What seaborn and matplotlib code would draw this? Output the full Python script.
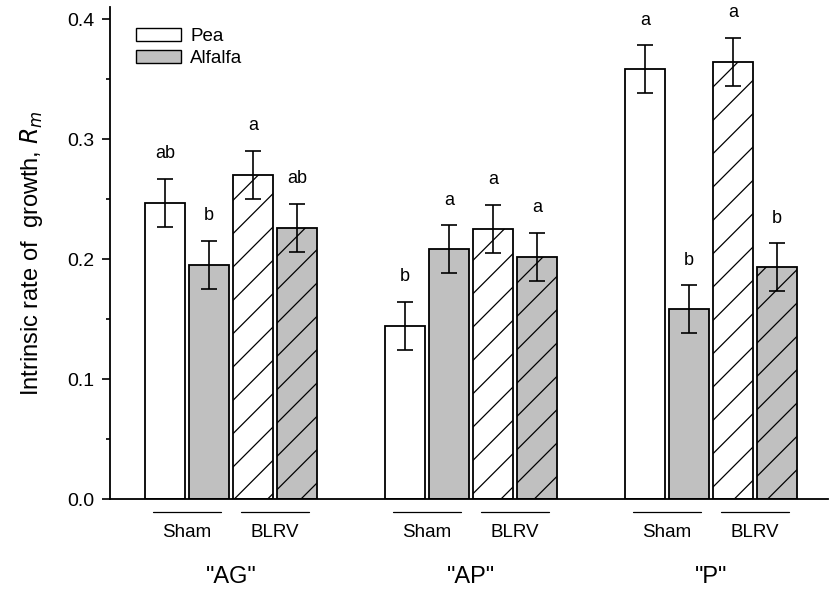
import matplotlib
matplotlib.use("Agg")
import matplotlib.pyplot as plt
import matplotlib.transforms as mtransforms
from matplotlib.patches import Patch
import numpy as np
import pandas as pd
import seaborn as sns

# ---- data -------------------------------------------------------------
groups = ['"AG"', '"AP"', '"P"']
conditions = ["Pea Sham", "Alfalfa Sham", "Pea BLRV", "Alfalfa BLRV"]
pea_sham = [0.247, 0.144, 0.358]
alfalfa_sham = [0.195, 0.208, 0.158]
pea_blrv = [0.270, 0.225, 0.364]
alfalfa_blrv = [0.226, 0.202, 0.193]
sem = [0.020, 0.020, 0.020]
letters = {
    "Pea Sham": ["ab", "b", "a"],
    "Alfalfa Sham": ["b", "a", "b"],
    "Pea BLRV": ["a", "a", "a"],
    "Alfalfa BLRV": ["ab", "a", "b"],
}
sub_labels = ["Sham", "BLRV"]
yticks = [0.0, 0.1, 0.2, 0.3, 0.4]

values = {
    "Pea Sham": pea_sham,
    "Alfalfa Sham": alfalfa_sham,
    "Pea BLRV": pea_blrv,
    "Alfalfa BLRV": alfalfa_blrv,
}
rows = []
for cond in conditions:
    for g, v in zip(groups, values[cond]):
        rows.append({"group": g, "condition": cond, "rm": v})
df = pd.DataFrame(rows)

# ---- style ------------------------------------------------------------
sns.set_style("ticks")
plt.rcParams["font.family"] = ["Liberation Sans", "DejaVu Sans"]
plt.rcParams["hatch.linewidth"] = 0.9
for key in ("text.color", "axes.labelcolor", "xtick.color", "ytick.color",
            "axes.edgecolor"):
    plt.rcParams[key] = "black"

fill_white = "#ffffff"
fill_gray = "#c0c0c0"
palette = {"Pea Sham": fill_white, "Alfalfa Sham": fill_gray,
           "Pea BLRV": fill_white, "Alfalfa BLRV": fill_gray}

fig = plt.figure(figsize=(8.33, 5.90), dpi=100)
ax = fig.add_axes([110 / 833, (590 - 499) / 590, (828 - 110) / 833, 492 / 590])

sns.barplot(data=df, x="group", y="rm", hue="condition", order=groups,
            hue_order=conditions, palette=palette, width=0.7333, gap=0.09,
            errorbar=None, edgecolor="black", linewidth=1.3, legend=False,
            ax=ax)

# hatch the BLRV bars and add error bars + significance letters
for cond, container in zip(conditions, ax.containers):
    centers = []
    for bar in container:
        if "BLRV" in cond:
            bar.set_hatch("/")
        centers.append(bar.get_x() + bar.get_width() / 2)
    vals = values[cond]
    ax.errorbar(centers, vals, yerr=sem, fmt="none", ecolor="black",
                elinewidth=1.2, capsize=6, capthick=1.2, zorder=5)
    for x, v, e, lab in zip(centers, vals, sem, letters[cond]):
        ax.text(x, v + e + 0.014, lab, ha="center", va="bottom",
                fontsize=13)

# axes
ax.set_xlim(-0.504, 2.4875)
ax.set_ylim(0, 0.41)
ax.set_yticks(yticks)
ax.set_yticklabels([f"{t:.1f}" for t in yticks])
ax.set_yticks(np.arange(0.05, 0.41, 0.1), minor=True)
ax.tick_params(axis="y", which="major", length=6, width=1.2, labelsize=14,
               pad=5, direction="out")
ax.tick_params(axis="y", which="minor", length=3, width=1.2, direction="out")
ax.tick_params(axis="x", which="both", bottom=False, labelbottom=False)
ax.set_xlabel("")
ax.set_ylabel(r"Intrinsic rate of  growth, $R_m$", fontsize=17, labelpad=16)
for side in ("top", "right"):
    ax.spines[side].set_visible(False)
for side in ("left", "bottom"):
    ax.spines[side].set_linewidth(1.3)

# sub-category rules and labels under each group
trans = mtransforms.blended_transform_factory(ax.transData, ax.transAxes)
offset = 0.1833
half = 0.1417
for i, g in enumerate(groups):
    for sign, lab in zip((-1, 1), sub_labels):
        cx = i + sign * offset
        ax.plot([cx - half, cx + half], [-0.027, -0.027], transform=trans,
                color="black", lw=0.9, clip_on=False)
        ax.text(cx, -0.069, lab, transform=trans, ha="center", va="center",
                fontsize=13.5)
    ax.text(i, -0.158, g, transform=trans, ha="center", va="center",
            fontsize=17)

# legend
handles = [Patch(facecolor=fill_white, edgecolor="black", linewidth=1.0, label="Pea"),
           Patch(facecolor=fill_gray, edgecolor="black", linewidth=1.0, label="Alfalfa")]
ax.legend(handles=handles, loc="upper left", bbox_to_anchor=(0.018, 0.985),
          frameon=False, fontsize=13.5, handlelength=2.4, handleheight=0.7,
          handletextpad=0.5, labelspacing=0.3, borderaxespad=0.3)

fig.savefig("out.png", dpi=100)
